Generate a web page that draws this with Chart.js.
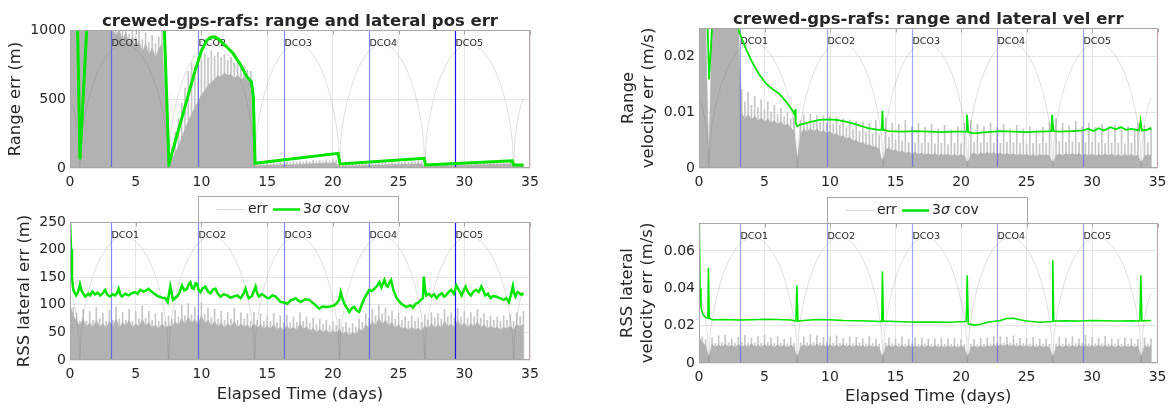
<!DOCTYPE html>
<html>
<head>
<meta charset="utf-8">
<title>crewed-gps-rafs</title>
<script src="https://cdn.jsdelivr.net/npm/chart.js@4.4.1/dist/chart.umd.min.js"></script>
<style>
  html, body { margin: 0; padding: 0; background: #fff; }
  #fig { position: relative; width: 1172px; height: 409px; overflow: hidden; }
  canvas { position: absolute; }
</style>
</head>
<body>
<div id="fig">
  <canvas id="tl" width="585" height="190" style="left:0px;top:0px"></canvas>
  <canvas id="bl" width="585" height="219" style="left:0px;top:190px"></canvas>
  <canvas id="tr" width="587" height="190" style="left:585px;top:0px"></canvas>
  <canvas id="br" width="587" height="219" style="left:585px;top:190px"></canvas>
</div>
<script>
var GREEN = '#00e400'
var GRAY_DENSE = '#b2b2b2'
var GRAY_STREAK = '#c6c6c6'
var ARC_COLOR = 'rgba(110,90,90,0.2)'
var GRID = '#e6e6e6'
var TEXT = '#262626'
var FONT = '"DejaVu Sans", sans-serif'

var DCO_NAMES = ['DCO1', 'DCO2', 'DCO3', 'DCO4', 'DCO5']
var DCO_DAYS = [3.1, 9.77, 16.28, 22.72, 29.32]
var X_TICKS = [0, 5, 10, 15, 20, 25, 30, 35]
var GRID_STEP = 0.25 // gray runs are sampled every 6 h

// reference trajectory trace, drawn on a 0..1 scale in every panel
var ARC_T = [0, 0.21, 0.48, 0.65, 0.75,
  0.85, 1.02, 1.29, 1.76, 2.44, 3.25, 4.13, 5.0, 5.81, 6.49, 6.96, 7.23, 7.40, 7.5,
  7.6, 7.76, 8.02, 8.48, 9.14, 9.92, 10.78, 11.63, 12.41, 13.07, 13.53, 13.79, 13.95, 14.05,
  14.15, 14.31, 14.57, 15.02, 15.66, 16.44, 17.28, 18.11, 18.89, 19.53, 19.98, 20.24, 20.40, 20.5,
  20.6, 20.76, 21.02, 21.48, 22.13, 22.91, 23.75, 24.6, 25.38, 26.03, 26.48, 26.74, 26.9, 27.0,
  27.1, 27.27, 27.54, 28.01, 28.69, 29.5, 30.38, 31.25, 32.06, 32.74, 33.21, 33.48, 33.65, 33.75,
  33.85, 34.02, 34.29, 34.5]
var ARC_F = [0.47, 0.45, 0.32, 0.2, 0,
  0.2, 0.32, 0.45, 0.61, 0.76, 0.86, 0.9, 0.86, 0.76, 0.61, 0.45, 0.32, 0.2, 0,
  0.2, 0.32, 0.45, 0.61, 0.76, 0.86, 0.9, 0.86, 0.76, 0.61, 0.45, 0.32, 0.2, 0,
  0.2, 0.32, 0.45, 0.61, 0.76, 0.86, 0.9, 0.86, 0.76, 0.61, 0.45, 0.32, 0.2, 0,
  0.2, 0.32, 0.45, 0.61, 0.76, 0.86, 0.9, 0.86, 0.76, 0.61, 0.45, 0.32, 0.2, 0,
  0.2, 0.32, 0.45, 0.61, 0.76, 0.86, 0.9, 0.86, 0.76, 0.61, 0.45, 0.32, 0.2, 0,
  0.2, 0.32, 0.45, 0.5]

// ---- range position error (m) ----
var TL_DENSE = [
  1000, 1000, 1000, 1000, 1000, 1000, 1000, 1000,  1000, 1000, 1000, 1000,  1000, 1000, 960, 1000,
  930, 980, 900, 950,     870, 920, 840, 900,      820, 870, 800, 860,      900, 500, 15, 60,
  110, 160, 220, 280,     340, 390, 440, 480,      530, 560, 600, 620,      640, 670, 660, 690,
  670, 680, 650, 670,     640, 660, 630, 640,      20, 15, 20, 16,          22, 18, 24, 19,
  25, 21, 27, 22,         28, 24, 30, 25,          32, 27, 34, 29,          36, 31, 38, 33,
  40, 35, 8, 12,          16, 13, 18, 14,          19, 16, 21, 17,          22, 19, 24, 20,
  25, 22, 27, 23,         28, 25, 30, 26,          31, 28, 33, 29,          8, 12, 15, 13,
  17, 14, 18, 15,         19, 17, 21, 18,          22, 19, 23, 21,          25, 22, 26, 23,
  27, 25, 29, 26,         30, 27, 31, 8,           12, 16, 14]
var TL_STREAK = [
  1000, 1000, 1000, 1000, 1000, 1000, 1000, 1000,  1000, 1000, 1000, 1000,  1000, 1000, 1000, 1000,
  990, 1000, 970, 1000,   950, 990, 930, 980,      910, 960, 900, 950,      990, 800, 30, 150,
  260, 360, 470, 580,     700, 760, 740, 800,      780, 830, 800, 850,      810, 840, 800, 820,
  780, 800, 760, 770,     730, 740, 710, 700,      30, 28, 34, 30,          38, 33, 40, 35,
  42, 37, 45, 39,         47, 41, 50, 43,          52, 45, 55, 48,          58, 50, 60, 53,
  64, 56, 15, 22,         28, 24, 31, 26,          33, 28, 35, 30,          37, 32, 39, 34,
  41, 36, 43, 38,         45, 40, 47, 42,          49, 44, 51, 46,          15, 22, 27, 24,
  29, 26, 31, 28,         33, 30, 35, 32,          37, 34, 39, 36,          41, 38, 43, 40,
  45, 42, 47, 44,         44, 42, 45, 15,          22, 26, 24]
var TL_COV_T = [0.58, 0.76, 1.27, 4, 7.18, 7.53, 8.5, 9.5, 10.0, 10.4, 10.7, 11.0, 11.3, 11.9,
  12.4, 12.9, 13.45, 13.8, 13.95, 14.08, 20.4, 20.55, 26.95, 27.05, 33.65, 33.75, 34.5]
var TL_COV_V = [1000, 63, 1000, null, 1000, 29, 360, 700, 850, 925, 948, 950, 935, 880,
  831, 760, 662, 625, 517, 34, 106, 29, 70, 22, 53, 22, 22]

// ---- RSS lateral position error (m) ----
var BL_DENSE = [
  100, 80, 70, 62,  75, 60, 68, 58,  72, 60, 66, 57,  70, 60, 75, 58,  68, 62, 72, 58,
  66, 60, 74, 62,   68, 58, 64, 56,  66, 58, 62, 60,  70, 62, 76, 64,  78, 66, 74, 64,
  80, 66, 72, 62,   70, 60, 68, 58,  66, 60, 70, 58,  66, 60, 64, 56,  66, 58, 64, 56,
  62, 56, 64, 55,   60, 54, 62, 55,  60, 54, 66, 56,  60, 52, 58, 50,  56, 50, 55, 48,
  54, 48, 56, 46,   52, 44, 50, 46,  56, 52, 64, 58,  70, 62, 76, 64,  72, 62, 68, 58,
  64, 56, 60, 54,   60, 54, 58, 52,  62, 56, 66, 58,  64, 58, 70, 60,  66, 58, 72, 60,
  68, 58, 66, 60,   70, 58, 64, 56,  62, 56, 60, 54,  60, 56, 62, 54,  64, 60, 66]
var BL_STREAK = [
  110, 95, 85, 70,  92, 70, 88, 72,  95, 75, 85, 70,  90, 72, 96, 74,  86, 72, 92, 70,
  88, 74, 98, 76,   88, 72, 84, 70,  86, 70, 80, 74,  90, 78, 100, 80, 102, 82, 96, 80,
  104, 82, 94, 76,  92, 74, 88, 72,  86, 74, 94, 72,  86, 74, 84, 70,  86, 72, 84, 70,
  80, 70, 84, 68,   80, 68, 82, 68,  78, 68, 86, 70,  78, 66, 76, 64,  74, 64, 72, 62,
  70, 62, 74, 60,   68, 58, 66, 60,  74, 68, 84, 76,  92, 80, 100, 84, 94, 80, 88, 74,
  84, 72, 78, 70,   80, 70, 76, 68,  82, 72, 86, 76,  84, 74, 92, 78,  86, 76, 94, 78,
  88, 76, 86, 78,   92, 76, 84, 72,  80, 72, 78, 70,  80, 72, 82, 70,  86, 78, 88]
var BL_COV_T = [0.0, 0.08, 0.15, 0.25, 0.46, 0.6, 0.76, 0.9, 1.15, 1.4, 1.53, 1.7, 1.9, 2.1, 2.3,
  2.5, 2.67, 2.85, 3.05, 3.25, 3.43, 3.6, 3.7, 3.85, 3.95, 4.2, 4.45, 4.7, 4.96, 5.15, 5.34, 5.6,
  5.8, 5.98, 6.2, 6.36, 6.55, 6.74, 7.0, 7.25, 7.43, 7.63, 7.84, 8.14, 8.3, 8.52, 8.7, 8.9, 9.05,
  9.16, 9.3, 9.41, 9.55, 9.67, 9.8, 9.92, 10.1, 10.3, 10.5, 10.69, 10.9, 11.07, 11.25, 11.45, 11.7,
  11.96, 12.2, 12.47, 12.72, 12.98, 13.2, 13.36, 13.5, 13.6, 13.85, 14.12, 14.25, 14.38, 14.6,
  14.76, 14.95, 15.14, 15.4, 15.65, 15.85, 16.03, 16.3, 16.54, 16.8, 17.0, 17.18, 17.35, 17.56,
  17.9, 18.2, 18.45, 18.7, 18.96, 19.2, 19.47, 19.8, 20.1, 20.3, 20.48, 20.6, 20.75, 20.87, 21.05,
  21.25, 21.45, 21.63, 21.8, 22.0, 22.2, 22.4, 22.6, 22.77, 22.95, 23.16, 23.35, 23.54, 23.7,
  23.92, 24.05, 24.17, 24.3, 24.43, 24.6, 24.86, 25.2, 25.6, 25.9, 26.1, 26.3, 26.5, 26.7, 26.85,
  26.92, 27.0, 27.1, 27.3, 27.5, 27.7, 27.9, 28.1, 28.3, 28.45, 28.6, 28.8, 29.0, 29.2, 29.4,
  29.6, 29.8, 29.95, 30.1, 30.3, 30.5, 30.7, 30.9, 31.1, 31.3, 31.45, 31.6, 31.8, 32.0, 32.2,
  32.4, 32.6, 32.8, 33.0, 33.2, 33.4, 33.55, 33.7, 33.8, 33.9, 34.05, 34.2, 34.35, 34.5]
var BL_COV_V = [250, 200, 150, 127, 117, 122, 137, 124, 115, 120, 117, 124, 119, 122, 117,
  121, 127, 118, 115, 119, 117, 122, 129, 118, 115, 120, 117, 121, 123, 120, 127, 124,
  126, 129, 124, 121, 118, 115, 113, 112, 105, 133, 109, 115, 120, 135, 126, 129, 138,
  141, 130, 129, 139, 138, 126, 123, 130, 133, 124, 121, 128, 129, 120, 115, 119,
  117, 113, 115, 117, 112, 120, 129, 118, 112, 116, 133, 120, 115, 119,
  117, 113, 112, 117, 115, 110, 105, 104, 102, 108, 110, 112, 108, 105,
  110, 109, 104, 99, 93, 97, 96, 97, 99, 103, 109, 123, 110, 102, 95,
  87, 94, 96, 90, 87, 100, 112, 120, 127, 125, 129, 134, 141, 132,
  145, 135, 133, 140, 145, 127, 112, 102, 96, 99, 95, 102, 104, 109, 112,
  151, 130, 117, 120, 115, 119, 112, 118, 121, 115, 117, 123, 127, 120, 135,
  126, 117, 126, 133, 122, 117, 124, 127, 123, 133, 125, 117, 120, 112, 116,
  115, 113, 111, 109, 112, 105, 118, 134, 120, 115, 123, 121, 118, 121]

// ---- range velocity error (m/s) ----
var TR_DENSE = [
  .025, .025, .025, .002,  .025, .025, .025, .025,  .025, .025, .025, .025,  .025, .0098, .0088, .0096,
  .0086, .0093, .0084, .0090,  .0082, .0088, .0080, .0085,  .0078, .0083, .0075, .0079,  .0072, .0066, .0012, .0060,
  .0070, .0064, .0071, .0065,  .0070, .0063, .0068, .0061,  .0066, .0059, .0062, .0055,  .0058, .0052, .0055, .0048,
  .0050, .0044, .0046, .0040,  .0042, .0037, .0039, .0033,  .0010, .0033, .0036, .0030,  .0033, .0028, .0031, .0026,
  .0029, .0025, .0028, .0024,  .0027, .0023, .0026, .0023,  .0026, .0022, .0025, .0022,  .0025, .0021, .0024, .0021,
  .0024, .0022, .0008, .0024,  .0027, .0023, .0027, .0024,  .0028, .0025, .0028, .0024,  .0027, .0023, .0026, .0023,
  .0026, .0022, .0025, .0022,  .0025, .0021, .0024, .0021,  .0024, .0022, .0024, .0021,  .0008, .0022, .0025, .0022,
  .0026, .0023, .0026, .0023,  .0026, .0022, .0025, .0022,  .0025, .0021, .0024, .0022,  .0025, .0022, .0025, .0021,
  .0024, .0021, .0024, .0022,  .0024, .0021, .0023, .0008,  .0021, .0024, .0022]
var TR_STREAK = [
  .025, .025, .025, .003,  .025, .025, .025, .025,  .025, .025, .025, .025,  .025, .0140, .0118, .0135,
  .0112, .0128, .0108, .0122,  .0104, .0118, .0100, .0112,  .0096, .0106, .0092, .0100,  .0088, .0090, .0020, .0085,
  .0095, .0082, .0096, .0084,  .0094, .0082, .0093, .0080,  .0092, .0078, .0090, .0076,  .0088, .0072, .0086, .0070,
  .0084, .0066, .0082, .0064,  .0080, .0060, .0085, .0058,  .0015, .0090, .0055, .0080,  .0050, .0078, .0048, .0085,
  .0046, .0074, .0045, .0080,  .0044, .0072, .0045, .0078,  .0043, .0070, .0044, .0076,  .0042, .0068, .0044, .0074,
  .0043, .0080, .0012, .0085,  .0046, .0078, .0045, .0074,  .0046, .0080, .0045, .0072,  .0044, .0078, .0046, .0070,
  .0045, .0076, .0044, .0070,  .0043, .0074, .0044, .0068,  .0043, .0072, .0044, .0082,  .0012, .0088, .0047, .0080,
  .0046, .0076, .0047, .0084,  .0046, .0074, .0045, .0080,  .0046, .0072, .0045, .0078,  .0044, .0070, .0045, .0076,
  .0044, .0068, .0043, .0074,  .0044, .0070, .0080, .0012,  .0076, .0045, .0072]
var TR_COV_T = [0.66, 0.77, 0.99, 2, 2.97, 3.1, 3.6, 4.1, 4.6, 5.1, 5.6, 6.1, 6.6, 7.1, 7.3, 7.33,
  7.38, 7.5, 7.8, 8.6, 9.2, 9.8, 10.5, 11.2, 12.0, 12.9, 13.7, 13.95, 14.0, 14.05, 14.5, 15.5,
  16.5, 17.5, 18.5, 19.5, 20.4, 20.45, 20.55, 21, 22, 23, 24, 25, 26, 26.9, 26.95, 27.05,
  27.5, 28.5, 29.3, 29.7, 30.1, 30.5, 30.9, 31.4, 31.8, 32.2, 32.6, 33.0, 33.6, 33.7, 33.8,
  34.2, 34.4, 34.5]
var TR_COV_V = [.025, .0158, .025, null, .025, .0241, .0212, .0187, .0167, .0151, .0141, .0133,
  .0120, .0104, .0095, .0105, .0080, .0075, .0078, .0083, .0086, .0087, .0086, .0083, .0078,
  .0071, .0068, .0068, .0102, .0068, .0066, .0065, .0066, .0065, .0064, .0065, .0065, .0095,
  .0064, .0062, .0064, .0066, .0065, .0064, .0065, .0066, .0095, .0066, .0065, .0066, .0067,
  .0070, .0066, .0071, .0067, .0073, .0069, .0073, .0068, .0070, .0067, .0084, .0067, .0068,
  .0071, .0068]

// ---- RSS lateral velocity error (m/s) ----
var BR_DENSE = [
  .014, .011, .0095, .003,  .010, .0085, .0098, .0084,  .0102, .0086, .0096, .0083,  .0100, .0085, .0097, .0084,
  .0103, .0086, .0095, .0084,  .0100, .0085, .0098, .0083,  .0099, .0084, .0096, .0082,  .0097, .0083, .003, .0085,
  .0099, .0085, .0100, .0086,  .0102, .0087, .0098, .0085,  .0100, .0085, .0097, .0084,  .0099, .0084, .0096, .0083,
  .0098, .0084, .0095, .0083,  .0097, .0083, .0094, .0082,  .003, .0084, .0096, .0083,  .0097, .0083, .0095, .0082,
  .0096, .0082, .0094, .0082,  .0097, .0083, .0095, .0082,  .0095, .0082, .0093, .0081,  .0094, .0081, .0092, .0080,
  .0093, .0080, .003, .0082,  .0092, .0080, .0093, .0081,  .0096, .0084, .0099, .0086,  .0100, .0087, .0101, .0087,
  .0099, .0085, .0097, .0084,  .0096, .0083, .0094, .0082,  .0095, .0082, .0093, .0081,  .003, .0083, .0095, .0082,
  .0096, .0083, .0095, .0083,  .0097, .0084, .0096, .0083,  .0096, .0083, .0097, .0084,  .0097, .0083, .0095, .0082,
  .0095, .0082, .0094, .0082,  .0095, .0082, .0093, .003,  .0094, .0083, .0095]
var BR_STREAK = [
  .017, .014, .0125, .004,  .0135, .0105, .0145, .0110,  .0150, .0108, .0130, .0106,  .0138, .0110, .0148, .0108,
  .0132, .0107, .0142, .0106,  .0150, .0110, .0135, .0105,  .0140, .0106, .0128, .0104,  .0135, .0104, .004, .0108,
  .0140, .0108, .0152, .0110,  .0145, .0110, .0138, .0108,  .0140, .0107, .0146, .0106,  .0132, .0105, .0140, .0104,
  .0138, .0105, .0130, .0103,  .0142, .0104, .0128, .0102,  .004, .0106, .0135, .0104,  .0130, .0103, .0140, .0102,
  .0128, .0102, .0136, .0102,  .0134, .0103, .0128, .0101,  .0130, .0101, .0135, .0100,  .0128, .0100, .0132, .0099,
  .0126, .0098, .004, .0100,  .0125, .0099, .0132, .0100,  .0135, .0104, .0142, .0106,  .0140, .0108, .0138, .0107,
  .0145, .0105, .0132, .0104,  .0132, .0103, .0138, .0102,  .0130, .0101, .0128, .0100,  .004, .0103, .0140, .0102,
  .0135, .0103, .0142, .0104,  .0130, .0104, .0148, .0103,  .0136, .0103, .0132, .0104,  .0142, .0103, .0130, .0102,
  .0128, .0102, .0136, .0101,  .0130, .0101, .0127, .004,  .0135, .0103, .0130]
var BR_COV_T = [0.02, 0.08, 0.15, 0.3, 0.5, 0.68, 0.72, 0.78, 1, 2, 3, 4, 5, 6, 7, 7.4, 7.47, 7.55,
  8, 9, 10, 11, 12, 13, 13.95, 14.0, 14.07, 15, 16, 17, 18, 19, 20.4, 20.47, 20.55, 21, 21.5,
  22, 23, 23.5, 24, 24.5, 25, 26, 26.95, 27.0, 27.07, 28, 29, 30, 31, 32, 33, 33.65, 33.72,
  33.8, 34.5]
var BR_COV_V = [.075, .04, .03, .026, .0245, .024, .051, .024, .0232, .0233, .023, .0232, .0234,
  .0233, .023, .0225, .0415, .0225, .0228, .0233, .0232, .0228, .0226, .0225, .0222, .049, .0225,
  .0222, .022, .0219, .022, .0218, .0222, .0468, .021, .0203, .0208, .0218, .0228, .0238, .024,
  .0232, .0225, .0218, .0222, .055, .0225, .0226, .0225, .0228, .0226, .0225, .0226, .0225, .047,
  .0226, .0228]

function gridPoints(vals) {
  return vals.map(function (v, i) { return { x: i * GRID_STEP, y: v } })
}
function pairPoints(ts, vs) {
  return ts.map(function (t, i) { return { x: t, y: vs[i] } })
}

Chart.defaults.font.family = FONT
Chart.defaults.color = TEXT

var decor = {
  id: 'decor',
  afterDatasetDraw: function (chart, args, o) {
    if (args.index !== 1) return
    var ctx = chart.ctx, ca = chart.chartArea, xs = chart.scales.x
    ctx.save()
    ctx.font = '9.5px ' + FONT
    ctx.textBaseline = 'middle'
    ctx.textAlign = 'left'
    DCO_DAYS.forEach(function (d, i) {
      var px = Math.round(xs.getPixelForValue(d)) + 0.5
      ctx.strokeStyle = o.dcoColors[i]
      ctx.lineWidth = 1.2
      ctx.beginPath()
      ctx.moveTo(px, ca.top)
      ctx.lineTo(px, ca.bottom)
      ctx.stroke()
      ctx.fillStyle = TEXT
      ctx.fillText(DCO_NAMES[i], px, ca.top + 14)
    })
    ctx.restore()
  },
  afterDraw: function (chart, args, o) {
    var ctx = chart.ctx, ca = chart.chartArea, xs = chart.scales.x
    var l = Math.round(ca.left) + 0.5, t = Math.round(ca.top) + 0.5
    var r = Math.round(ca.right) - 0.5, b = Math.round(ca.bottom) - 0.5
    ctx.save()
    ctx.lineWidth = 1
    ctx.strokeStyle = '#a8a8a8'
    X_TICKS.forEach(function (v) {
      var px = Math.round(xs.getPixelForValue(v)) + 0.5
      ctx.beginPath(); ctx.moveTo(px, t); ctx.lineTo(px, t + 4); ctx.stroke()
    })
    ctx.beginPath()
    ctx.moveTo(r, t); ctx.lineTo(l, t); ctx.lineTo(l, b); ctx.lineTo(r, b)
    ctx.stroke()
    ctx.strokeStyle = '#c4a0a0'
    ctx.beginPath(); ctx.moveTo(r, t); ctx.lineTo(r, b); ctx.stroke()

    if (o.title) {
      ctx.fillStyle = TEXT
      ctx.font = 'bold 16.5px ' + FONT
      ctx.textAlign = 'center'
      ctx.textBaseline = 'alphabetic'
      ctx.fillText(o.title, (ca.left + ca.right) / 2, ca.top - 4.5)
    }

    if (o.legend) {
      var ds = chart.data.datasets
      var bx = Math.round(ca.left) + 128, by = Math.round(ca.top) - 26
      var ly = by + 13.5
      ctx.fillStyle = '#fff'
      ctx.fillRect(bx, by, 200, 26)
      ctx.strokeStyle = '#a8a8a8'
      ctx.strokeRect(bx + 0.5, by + 0.5, 200, 26)
      // err sample
      ctx.strokeStyle = '#dadada'
      ctx.lineWidth = 1
      ctx.beginPath(); ctx.moveTo(bx + 19, ly); ctx.lineTo(bx + 47, ly); ctx.stroke()
      ctx.fillStyle = TEXT
      ctx.font = '14px ' + FONT
      ctx.textAlign = 'left'
      ctx.textBaseline = 'middle'
      ctx.fillText(ds[1].label, bx + 50, ly)
      // 3 sigma cov sample
      ctx.strokeStyle = GREEN
      ctx.lineWidth = 2.5
      ctx.beginPath(); ctx.moveTo(bx + 75, ly); ctx.lineTo(bx + 102, ly); ctx.stroke()
      var parts = ds[0].label.split('\u03c3')
      var x = bx + 105
      ctx.fillText(parts[0], x, ly)
      x += ctx.measureText(parts[0]).width
      ctx.font = 'italic 14px ' + FONT
      ctx.fillText('\u03c3', x, ly)
      x += ctx.measureText('\u03c3').width
      ctx.font = '14px ' + FONT
      ctx.fillText(parts[1], x, ly)
    }
    ctx.restore()
  }
}

function makePanel(id, p) {
  return new Chart(document.getElementById(id), {
    type: 'line',
    data: {
      datasets: [
        { label: '3\u03c3 cov', data: pairPoints(p.covT, p.covV), borderColor: GREEN,
          borderWidth: p.covWidth, pointRadius: 0, fill: false, spanGaps: false },
        { label: 'err', data: pairPoints(ARC_T, ARC_F), yAxisID: 'yArc', borderColor: ARC_COLOR,
          borderWidth: 1, pointRadius: 0, tension: 0.35, fill: false },
        { label: 'err runs', data: gridPoints(p.dense), borderColor: GRAY_DENSE,
          backgroundColor: GRAY_DENSE, borderWidth: 0.6, pointRadius: 0, fill: 'origin' },
        { type: 'bar', label: 'err streaks', data: gridPoints(p.streak), backgroundColor: GRAY_STREAK,
          borderWidth: 0, barThickness: 1, grouped: false }
      ]
    },
    options: {
      responsive: false,
      animation: false,
      events: [],
      layout: { padding: { top: p.padTop, right: p.padRight, bottom: 0, left: 0 } },
      plugins: {
        legend: { display: false },
        tooltip: { enabled: false },
        title: { display: false },
        decor: { title: p.title, legend: p.legend, dcoColors: p.dcoColors }
      },
      scales: {
        x: {
          type: 'linear', min: 0, max: 35, offset: false,
          border: { display: false },
          grid: { color: GRID, drawTicks: false, offset: false },
          ticks: { padding: 5.5, font: { size: 14 }, color: TEXT },
          afterBuildTicks: function (s) { s.ticks = X_TICKS.map(function (v) { return { value: v } }) },
          afterFit: function (s) { s.height = p.xHeight },
          title: {
            display: !!p.xTitle, text: 'Elapsed Time (days)', color: TEXT,
            font: { size: 16.4 }, padding: { top: 0, bottom: p.xTitlePad || 0 }
          }
        },
        y: {
          min: 0, max: p.yMax,
          border: { display: false },
          grid: { color: GRID, drawTicks: false },
          ticks: { padding: 4, font: { size: 14 }, color: TEXT,
                   callback: function (v) { return String(v) } },
          afterBuildTicks: function (s) { s.ticks = p.yTicks.map(function (v) { return { value: v } }) },
          afterFit: function (s) { s.width = p.yWidth },
          title: {
            display: true, text: p.yTitle, color: TEXT,
            font: { size: 16.4, lineHeight: 1.22 }, padding: { top: p.yTitlePad, bottom: 0 }
          }
        },
        yArc: { display: false, min: 0, max: 1 }
      }
    },
    plugins: [decor]
  })
}

var DCO_LEFT = ['rgba(40,40,255,0.55)', 'rgba(40,40,255,0.55)', 'rgba(40,40,255,0.55)',
  'rgba(40,40,255,0.55)', 'rgba(0,0,230,0.9)']
var DCO_RIGHT = ['rgba(40,40,255,0.42)', 'rgba(40,40,255,0.42)', 'rgba(40,40,255,0.42)',
  'rgba(40,40,255,0.42)', 'rgba(40,40,255,0.42)']

makePanel('tl', {
  title: 'crewed-gps-rafs: range and lateral pos err',
  dense: TL_DENSE, streak: TL_STREAK, covT: TL_COV_T, covV: TL_COV_V, covWidth: 3,
  yMax: 1000, yTicks: [0, 500, 1000], yTitle: 'Range err (m)', yTitlePad: 6,
  padTop: 30, padRight: 55, yWidth: 70, xHeight: 22, dcoColors: DCO_LEFT
})
makePanel('bl', {
  legend: true,
  dense: BL_DENSE, streak: BL_STREAK, covT: BL_COV_T, covV: BL_COV_V, covWidth: 2.5,
  yMax: 250, yTicks: [0, 50, 100, 150, 200, 250], yTitle: 'RSS lateral err (m)', yTitlePad: 15,
  xTitle: true, xTitlePad: 4.4,
  padTop: 32, padRight: 55, yWidth: 70, xHeight: 49, dcoColors: DCO_LEFT
})
makePanel('tr', {
  title: 'crewed-gps-rafs: range and lateral vel err',
  dense: TR_DENSE, streak: TR_STREAK, covT: TR_COV_T, covV: TR_COV_V, covWidth: 1.8,
  yMax: 0.025, yTicks: [0, 0.01, 0.02], yTitle: ['Range', 'velocity err (m/s)'], yTitlePad: 34,
  padTop: 28, padRight: 10, yWidth: 114, xHeight: 22, dcoColors: DCO_RIGHT
})
makePanel('br', {
  legend: true,
  dense: BR_DENSE, streak: BR_STREAK, covT: BR_COV_T, covV: BR_COV_V, covWidth: 1.6,
  yMax: 0.075, yTicks: [0, 0.02, 0.04, 0.06], yTitle: ['RSS lateral', 'velocity err (m/s)'], yTitlePad: 33,
  xTitle: true, xTitlePad: 2.4,
  padTop: 33, padRight: 10, yWidth: 114, xHeight: 46, dcoColors: DCO_RIGHT
})
</script>
</body>
</html>
